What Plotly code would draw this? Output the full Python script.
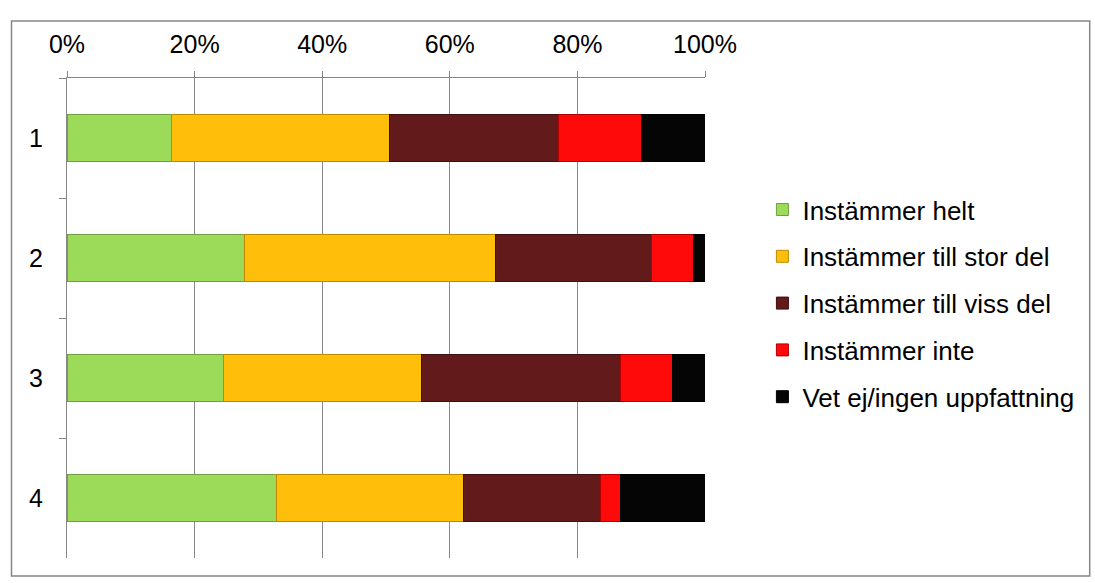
import plotly.graph_objects as go

categories = ["1", "2", "3", "4"]
series_names = ["Instämmer helt", "Instämmer till stor del", "Instämmer till viss del",
                "Instämmer inte", "Vet ej/ingen uppfattning"]
helt = [16.4, 27.8, 24.5, 32.8]
stor = [34.2, 39.3, 31.1, 29.3]
viss = [26.4, 24.5, 31.2, 21.5]
inte = [13.0, 6.6, 8.1, 3.2]
vetej = [10.0, 1.8, 5.1, 13.2]
tick_vals = [0, 20, 40, 60, 80, 100]
tick_text = ["0%", "20%", "40%", "60%", "80%", "100%"]

series = [helt, stor, viss, inte, vetej]
colors = ["#9CDB5A", "#FFBE0A", "#621A1A", "#FF0A0A", "#050505"]
edges = ["#6FA040", "#C08A00", "#3E0E0E", "#B00000", "#000000"]

fig = go.Figure()
for i, (name, vals) in enumerate(zip(series_names, series)):
    fig.add_trace(go.Bar(
        y=categories, x=vals, name=name, orientation="h",
        marker=dict(color=colors[i], line=dict(color=edges[i], width=1)),
        legendgroup=f"g{i}",
    ))

font_family = "Arial, Liberation Sans, sans-serif"
fig.update_layout(
    barmode="stack",
    bargap=0.61,
    width=1095, height=583,
    margin=dict(l=67, r=390, t=78, b=25),
    paper_bgcolor="white", plot_bgcolor="white",
    font=dict(family=font_family, size=25, color="#000000"),
    xaxis=dict(
        side="top", range=[0, 100], tickvals=tick_vals, ticktext=tick_text,
        showgrid=True, gridcolor="#878787", gridwidth=1,
        showline=True, linecolor="#878787", linewidth=1,
        ticks="outside", ticklen=6, tickcolor="#878787",
        zeroline=False, fixedrange=True, ticklabelstandoff=8,
    ),
    yaxis=dict(
        autorange="reversed", type="category",
        showline=True, linecolor="#878787", linewidth=1,
        ticks="outside", ticklen=7, tickcolor="#878787", tickson="boundaries",
        showgrid=False, ticklabelstandoff=18,
    ),
    legend=dict(
        x=1.09, xanchor="left", y=0.53, yanchor="middle",
        font=dict(size=26, family=font_family), tracegroupgap=10,
        itemwidth=30, bgcolor="rgba(0,0,0,0)",
    ),
    showlegend=True,
    shapes=[dict(type="rect", xref="paper", yref="paper",
                 x0=-0.087, x1=1.603, y0=-0.0375, y1=1.119,
                 line=dict(color="#878787", width=1.5), fillcolor="rgba(0,0,0,0)",
                 layer="below")],
)

fig.write_html("out.html")
